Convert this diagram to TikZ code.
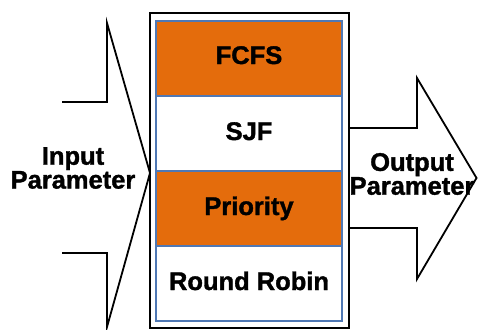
\documentclass[tikz,border=0pt]{standalone}
\usepackage{fontspec}
\setmainfont{Liberation Sans}[BoldFeatures={FakeBold=1.4}]
\definecolor{bandorange}{RGB}{228,108,12}
\definecolor{bandedge}{RGB}{79,120,180}
\begin{document}
\begin{tikzpicture}[x=1pt,y=-1pt,
  lbl/.style={font=\bfseries\fontsize{25.5}{22}\selectfont, inner sep=0pt},
  band/.style={draw=bandedge, line width=1.2pt},
  arrowline/.style={draw=black, line width=1.8pt, line join=miter}]
  \useasboundingbox (0,0) rectangle (478,329);

  % outer frame and the four algorithm bands
  \draw[line width=2.2pt] (150,13) rectangle (349,328);
  \path[band, fill=bandorange] (156,21)  rectangle (342,96);
  \path[band, fill=white]      (156,96)  rectangle (342,171);
  \path[band, fill=bandorange] (156,171) rectangle (342,246);
  \path[band, fill=white]      (156,246) rectangle (342,321);

  \node[lbl, anchor=base] (fcfs)  at (249,64)  {FCFS};
  \node[lbl, anchor=base] (sjf)   at (249,140) {SJF};
  \node[lbl, anchor=base] (prio)  at (249,215) {Priority};
  \node[lbl, anchor=base] (rr)    at (249,290) {Round Robin};

  % input arrow pointing into the frame
  \draw[arrowline] (62,102) -- (107,102) -- (107,23) -- (150,173)
                   -- (107,327) -- (107,253) -- (62,253);
  \node[lbl, align=center] (inp) at (73,168) {Input\\Parameter};

  % output arrow leaving the frame
  \draw[arrowline] (349,128) -- (417,128) -- (417,78) -- (476.5,178)
                   -- (417,279) -- (417,228) -- (349,228);
  \node[lbl, align=center] (outp) at (412,174) {Output\\Parameter};
\end{tikzpicture}
\end{document}
